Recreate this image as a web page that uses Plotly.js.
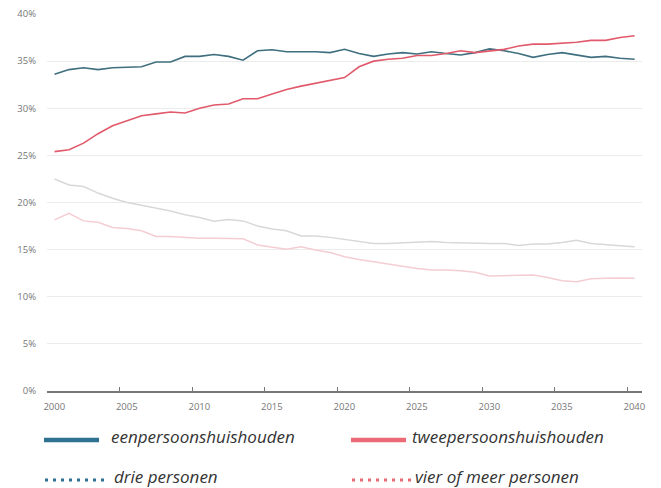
<!DOCTYPE html>
<html>
<head>
<meta charset="utf-8">
<script src="https://cdn.plot.ly/plotly-3.0.1.min.js"></script>
<style>html,body{margin:0;padding:0;background:#fff;}#chart{width:661px;height:488px;}</style>
</head>
<body>
<div id="chart"></div>
<script>
const years = [];
for (let y = 2000; y <= 2040; y++) years.push(y);

const seriesNames = ["eenpersoonshuishouden", "tweepersoonshuishouden", "drie personen", "vier of meer personen"];

const eenpersoons = [33.6,34.1,34.3,34.1,34.3,34.35,34.4,34.9,34.9,35.5,35.5,35.7,35.5,35.1,36.1,36.2,36.0,36.0,36.0,35.9,
  36.25,35.8,35.5,35.75,35.9,35.75,36.0,35.8,35.65,35.9,36.3,36.1,35.8,35.4,35.7,35.9,35.65,35.4,35.5,35.3,35.2];
const tweepersoons = [25.4,25.6,26.3,27.3,28.15,28.7,29.2,29.4,29.6,29.5,30.0,30.35,30.45,31.0,31.0,31.5,32.0,32.35,32.65,32.9,
  33.25,34.4,35.0,35.2,35.3,35.6,35.6,35.8,36.1,35.9,36.1,36.25,36.6,36.8,36.8,36.9,37.0,37.2,37.2,37.5,37.7];
const driePersonen = [22.5,21.85,21.7,21.0,20.45,20.0,19.7,19.4,19.1,18.7,18.4,18.0,18.2,18.05,17.5,17.2,17.0,16.45,16.45,16.3,
  16.1,15.9,15.65,15.65,15.7,15.8,15.85,15.75,15.7,15.65,15.65,15.65,15.45,15.6,15.6,15.75,16.0,15.65,15.5,15.4,15.3];
const vierOfMeer = [18.15,18.85,18.05,17.9,17.35,17.25,17.0,16.4,16.4,16.3,16.2,16.2,16.15,16.15,15.5,15.25,15.05,15.3,14.95,14.7,
  14.25,13.95,13.7,13.45,13.2,13.0,12.85,12.85,12.75,12.6,12.2,12.25,12.3,12.3,12.05,11.7,11.6,11.9,11.95,12.0,11.95];

const yTickVals = [0,5,10,15,20,25,30,35,40];
const yTickText = ["0%","5%","10%","15%","20%","25%","30%","35%","40%"];
const xTickLabels = ["2000","2005","2010","2015","2020","2025","2030","2035","2040"];

// layout geometry
const W = 661, H = 488;
const M = {l: 47, r: 19, t: 14, b: 97};
const plotW = W - M.l - M.r, plotH = H - M.t - M.b;
const px = x => (x - M.l) / plotW;
const py = y => (H - M.b - y) / plotH;

const lineColors = ["#3f6f7f", "#e15a6b", "#d8d8d8", "#f4cdd3"];
const legendColors = ["#2f7191", "#ec6a76", "#2f7191", "#ec6a76"];

const traces = [
  {x: years, y: driePersonen, name: seriesNames[2], mode: "lines", line: {color: lineColors[2], width: 1.5}},
  {x: years, y: vierOfMeer, name: seriesNames[3], mode: "lines", line: {color: lineColors[3], width: 1.5}},
  {x: years, y: eenpersoons, name: seriesNames[0], mode: "lines", line: {color: lineColors[0], width: 1.6}},
  {x: years, y: tweepersoons, name: seriesNames[1], mode: "lines", line: {color: lineColors[1], width: 1.6}}
].map(t => Object.assign(t, {hoverinfo: "skip", showlegend: false}));

// manual legend
const legendItems = [
  {name: seriesNames[0], color: legendColors[0], x0: 44, x1: 99, ly: 440, tx: 109, ty: 436, dot: false},
  {name: seriesNames[1], color: legendColors[1], x0: 351, x1: 406, ly: 440, tx: 410, ty: 436, dot: false},
  {name: seriesNames[2], color: legendColors[2], x0: 45, x1: 105, ly: 480, tx: 112, ty: 476, dot: true},
  {name: seriesNames[3], color: legendColors[3], x0: 352, x1: 412, ly: 480, tx: 413, ty: 476, dot: true}
];
const shapes = legendItems.map(it => ({
  type: "line", xref: "paper", yref: "paper",
  x0: px(it.x0), x1: px(it.x1), y0: py(it.ly), y1: py(it.ly),
  line: {color: it.color, width: it.dot ? 3 : 4.5, dash: it.dot ? "3px,5px" : "solid"}
}));
const annotations = legendItems.map(it => ({
  xref: "paper", yref: "paper", x: px(it.tx), y: py(it.ty),
  xanchor: "left", yanchor: "middle", showarrow: false, text: it.name,
  font: {family: "Open Sans", size: 17, color: "#333333", style: "italic"}
}));

const layout = {
  width: W, height: H,
  margin: M,
  paper_bgcolor: "#ffffff", plot_bgcolor: "#ffffff",
  showlegend: false,
  font: {family: "Open Sans", color: "#777777"},
  xaxis: {
    range: [1999.48, 2040.51],
    tickvals: xTickLabels.map(v => Number(v) - 0.5),
    ticktext: xTickLabels,
    ticks: "inside", ticklen: 4, tickwidth: 1, tickcolor: "#777777",
    ticklabelshift: 7, ticklabelstandoff: 6,
    showgrid: false, zeroline: false,
    showline: true, linecolor: "#777777", linewidth: 1.5,
    tickfont: {family: "Open Sans", size: 9.5, color: "#777777"},
    fixedrange: true
  },
  yaxis: {
    range: [0, 40],
    tickvals: yTickVals, ticktext: yTickText,
    ticks: "", showgrid: true, gridcolor: "#ececec", gridwidth: 1,
    zeroline: false, showline: false,
    ticklabelstandoff: 10,
    tickfont: {family: "Open Sans", size: 9.5, color: "#777777"},
    fixedrange: true
  },
  shapes: shapes,
  annotations: annotations
};

Plotly.newPlot("chart", traces, layout, {displayModeBar: false, staticPlot: true});
</script>
</body>
</html>
